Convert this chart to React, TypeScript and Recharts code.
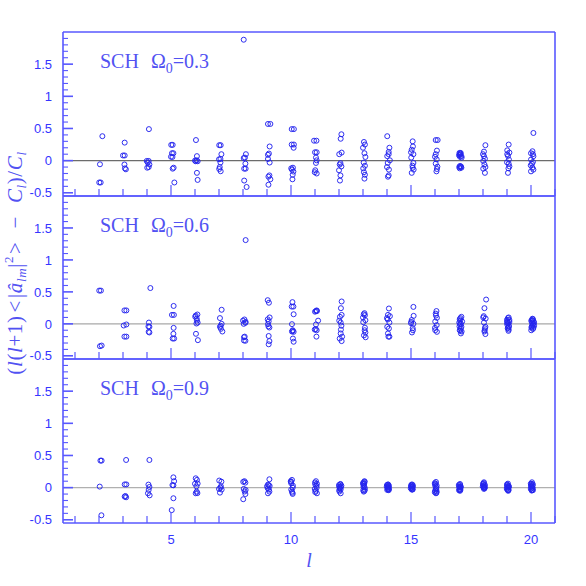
import React from "react";
import { ScatterChart, Scatter, XAxis, YAxis, ReferenceLine } from "recharts";

// multipole index l (x) and the tick layout
const xTicks = [1, 2, 3, 4, 5, 6, 7, 8, 9, 10, 11, 12, 13, 14, 15, 16, 17, 18, 19, 20, 21];
const xLabels = [5, 10, 15, 20];
const yTicks = [
  -0.5, -0.4, -0.3, -0.2, -0.1, 0, 0.1, 0.2, 0.3, 0.4, 0.5, 0.6, 0.7, 0.8, 0.9, 1, 1.1, 1.2, 1.3,
  1.4, 1.5, 1.6, 1.7, 1.8, 1.9,
];
const yLabels = [-0.5, 0, 0.5, 1, 1.5];
const omegas = ["0.3", "0.6", "0.9"];

// [l, (l(l+1)<|a_lm|^2> - C_l)/C_l]
const omega03 = [
  [2.14, 0.38], [2.04, -0.057], [2.01, -0.34], [2.07, -0.34],
  [3.07, 0.28], [3.0, 0.08], [3.07, 0.08], [3.06, -0.06], [3.12, -0.135], [3.08, -0.12],
  [4.08, 0.49], [4.07, -0.005], [3.99, -0.005], [4.03, -0.03], [4.1, -0.06], [4.01, -0.11], [4.07, -0.1],
  [5.07, 0.245], [5.01, 0.245], [5.1, 0.115], [5.04, 0.115], [5.06, 0.057], [5.0, 0.06], [5.11, -0.11], [5.07, -0.125], [5.14, -0.34],
  [6.04, 0.32], [6.08, 0.07], [6.07, 0.005], [6.03, -0.01], [6.11, -0.01], [6.0, 0.0], [6.08, -0.19], [6.11, -0.3],
  [7.07, 0.24], [7.01, 0.24], [7.1, 0.1], [7.06, 0.026], [7.0, 0.02], [7.06, -0.03], [7.03, -0.1], [7.07, -0.165], [7.01, -0.13],
  [8.03, 1.88], [8.12, 0.1], [8.08, 0.047], [8.03, 0.04], [8.1, -0.047], [8.11, -0.125], [8.05, -0.125], [8.05, -0.31], [8.15, -0.41],
  [9.04, 0.57], [9.14, 0.57], [9.11, 0.22], [9.08, 0.11], [9.04, 0.09], [9.04, 0.026], [9.11, -0.03], [9.06, -0.25], [9.14, -0.29], [9.06, -0.375], [9.1, -0.23],
  [10.03, 0.49], [10.12, 0.49], [10.03, 0.25], [10.12, 0.25], [10.11, 0.2], [10.08, -0.11], [10.04, -0.14], [10.1, -0.17], [10.07, -0.22], [10.06, -0.29], [10.01, -0.12],
  [10.96, 0.31], [11.06, 0.31], [11.07, 0.13], [11.0, 0.13], [11.04, 0.047], [11.07, 0.005], [11.04, -0.036], [11.01, -0.15], [11.07, -0.2], [10.99, -0.18],
  [12.1, 0.41], [12.07, 0.34], [12.11, 0.125], [12.01, 0.1], [12.06, -0.04], [12.03, -0.06], [12.1, -0.09], [12.06, -0.23], [12.04, -0.31], [12.0, -0.15],
  [13.04, 0.29], [13.08, 0.25], [13.06, 0.115], [13.1, 0.057], [13.03, -0.03], [13.08, -0.08], [13.04, -0.18], [13.08, -0.22], [13.06, -0.28], [13.0, 0.2], [13.01, -0.12],
  [14.01, 0.38], [14.1, 0.2], [14.07, 0.135], [14.01, 0.07], [14.12, 0.005], [14.03, -0.036], [14.08, -0.14], [14.07, -0.23], [14.04, -0.25], [14.0, -0.1], [14.07, 0.1],
  [15.07, 0.3], [15.08, 0.22], [15.03, 0.17], [15.1, 0.1], [15.01, 0.047], [15.1, -0.036], [15.06, -0.078], [15.11, -0.14], [15.03, -0.19], [15.0, 0.13], [15.07, -0.11],
  [16.03, 0.32], [16.11, 0.32], [16.08, 0.156], [16.03, 0.1], [16.07, 0.02], [16.03, -0.047], [16.1, -0.094], [16.06, -0.167], [16.0, 0.06], [16.08, -0.13],
  [17.07, 0.12], [17.0, 0.083], [17.11, 0.047], [17.03, 0.1], [17.1, 0.07], [17.04, -0.083], [17.1, -0.11], [17.01, -0.1], [17.08, -0.09], [17.06, 0.11], [17.04, 0.06],
  [17.05, 0.09], [17.02, 0.12], [17.07, -0.1], [17.03, -0.12],
  [18.1, 0.24], [18.04, 0.14], [18.0, 0.1], [18.08, 0.03], [18.01, -0.005], [18.06, -0.06], [18.01, -0.125], [18.08, -0.19], [18.04, 0.07], [18.1, -0.1],
  [19.07, 0.25], [19.01, 0.16], [19.1, 0.125], [19.04, 0.073], [19.08, 0.016], [19.0, -0.026], [19.1, -0.09], [19.06, -0.12], [19.04, -0.19], [19.01, 0.1], [19.07, -0.05],
  [20.1, 0.43], [20.06, 0.146], [20.0, 0.115], [20.1, 0.068], [20.0, 0.016], [20.08, -0.02], [19.99, -0.073], [20.06, -0.11], [20.0, -0.167], [20.08, 0.1], [20.04, -0.05], [20.1, -0.14],
];

const omega06 = [
  [2.01, 0.52], [2.08, 0.52], [2.04, -0.35], [2.11, -0.34],
  [3.06, 0.21], [3.14, 0.21], [3.03, -0.026], [3.14, -0.01], [3.06, -0.2], [3.14, -0.2],
  [4.14, 0.56], [4.08, 0.02], [4.1, -0.047], [4.07, -0.125], [4.1, -0.135], [4.06, -0.04],
  [5.11, 0.28], [5.04, 0.14], [5.12, 0.14], [5.11, -0.063], [5.1, -0.156], [5.07, -0.23], [5.13, -0.23],
  [6.1, 0.146], [6.07, 0.083], [6.08, 0.052], [6.11, 0.02], [6.06, 0.005], [6.04, -0.156], [6.12, -0.255], [6.03, 0.13], [6.01, 0.11],
  [7.11, 0.22], [7.04, 0.09], [7.11, 0.0], [7.04, -0.047], [7.08, -0.078], [7.14, -0.12], [7.07, -0.03],
  [8.11, 1.31], [8.06, 0.068], [8.11, 0.03], [8.03, 0.0], [8.1, 0.016], [8.04, -0.21], [8.1, -0.265], [8.04, -0.26], [8.0, 0.05], [8.07, -0.2],
  [9.03, 0.37], [9.08, 0.33], [9.11, 0.1], [9.07, 0.04], [9.04, -0.005], [9.1, -0.057], [9.07, -0.19], [9.1, -0.27], [9.07, -0.32], [9.03, 0.07], [9.06, -0.04],
  [10.06, 0.34], [10.1, 0.27], [10.03, 0.27], [10.11, 0.15], [10.04, -0.005], [10.07, -0.11], [10.11, -0.125], [10.04, -0.12], [10.08, -0.23], [10.11, -0.28], [10.07, -0.1],
  [11.08, 0.2], [11.04, 0.2], [11.0, 0.19], [11.13, 0.05], [11.04, -0.01], [11.03, -0.083], [11.07, -0.1], [11.06, -0.2], [10.99, -0.09], [11.07, 0.21],
  [12.11, 0.35], [12.08, 0.245], [12.11, 0.14], [12.04, 0.11], [12.07, 0.02], [12.1, -0.03], [12.07, -0.15], [12.13, -0.2], [12.03, -0.23], [12.11, -0.27], [12.01, 0.05], [12.08, -0.09],
  [13.06, 0.167], [13.08, 0.135], [13.1, 0.057], [13.01, 0.026], [13.07, -0.1], [13.1, -0.135], [13.11, -0.21], [13.03, 0.15], [13.04, -0.18], [13.0, 0.1], [13.08, -0.06],
  [14.08, 0.24], [14.04, 0.14], [14.12, 0.12], [14.03, 0.068], [14.1, 0.02], [14.01, -0.047], [14.08, -0.073], [14.04, -0.15], [14.1, -0.2], [14.0, 0.09], [14.06, -0.2],
  [15.1, 0.265], [15.11, 0.125], [15.01, 0.03], [15.1, 0.0], [15.07, -0.068], [15.04, -0.135], [15.0, 0.01], [15.08, -0.1], [15.03, 0.06],
  [16.06, 0.2], [16.03, 0.16], [16.08, 0.094], [16.01, 0.036], [16.07, -0.02], [16.0, -0.063], [16.08, -0.125], [16.04, 0.13], [16.01, -0.1],
  [17.1, 0.11], [17.03, 0.073], [17.13, 0.036], [17.04, -0.005], [17.1, -0.047], [17.03, -0.1], [17.08, -0.15], [17.06, 0.09], [17.07, -0.07], [17.01, 0.02], [17.11, -0.12],
  [17.05, 0.05], [17.08, 0.0], [17.02, -0.04], [17.06, -0.11],
  [18.13, 0.38], [18.06, 0.245], [18.03, 0.12], [18.11, 0.083], [18.04, 0.02], [18.1, -0.047], [18.07, -0.1], [18.1, -0.16], [18.01, 0.1], [18.08, -0.07], [18.06, -0.12],
  [19.07, 0.1], [19.0, 0.063], [19.1, 0.03], [19.01, -0.01], [19.08, -0.047], [19.06, -0.11], [19.04, 0.09], [19.03, -0.07], [19.1, 0.06], [19.0, 0.02], [19.07, -0.09],
  [19.05, 0.01], [19.02, 0.04], [19.08, -0.03], [19.04, -0.06],
  [20.08, 0.073], [20.01, 0.047], [20.13, 0.016], [20.06, -0.02], [20.1, -0.063], [20.01, -0.1], [20.04, 0.06], [20.11, 0.04], [20.03, -0.04], [20.08, -0.08], [20.06, 0.08], [20.13, -0.03],
  [20.04, 0.02], [20.09, 0.0], [20.02, -0.06], [20.07, 0.05],
];

const omega09 = [
  [2.06, 0.42], [2.11, 0.42], [2.03, 0.016], [2.1, -0.43],
  [3.13, 0.43], [3.07, 0.05], [3.14, 0.05], [3.1, -0.13], [3.13, -0.15], [3.07, -0.14],
  [4.1, 0.43], [4.06, 0.047], [4.1, 0.01], [4.07, -0.036], [4.04, -0.088], [4.11, -0.12],
  [5.1, 0.16], [5.13, 0.1], [5.1, 0.036], [5.06, 0.04], [5.1, -0.165], [5.03, -0.35],
  [6.03, 0.145], [6.08, 0.12], [6.11, 0.062], [6.06, 0.02], [6.07, -0.062], [6.03, -0.088], [6.1, -0.085], [6.0, 0.06],
  [7.01, 0.11], [7.1, 0.093], [7.06, 0.0], [7.11, -0.03], [7.04, -0.078], [7.0, -0.02], [7.08, 0.02],
  [8.06, 0.1], [8.1, 0.078], [8.01, 0.09], [8.03, -0.02], [8.11, -0.036], [8.1, -0.1], [8.01, -0.18], [8.07, -0.06],
  [9.1, 0.13], [9.04, 0.047], [9.11, 0.026], [9.03, -0.01], [9.1, -0.062], [9.04, -0.088], [9.07, 0.04], [9.0, 0.02], [9.08, -0.03],
  [10.04, 0.12], [10.01, 0.067], [10.07, 0.0], [10.04, -0.062], [10.07, -0.098], [10.0, 0.09], [10.08, 0.03], [10.01, -0.03], [10.06, -0.08], [9.99, 0.1],
  [11.04, 0.1], [11.01, 0.05], [11.07, 0.0], [11.03, -0.05], [11.08, -0.088], [11.0, 0.08], [11.06, 0.03], [11.01, -0.07], [11.08, 0.06], [10.99, -0.02],
  [12.06, 0.057], [12.01, 0.015], [12.07, -0.026], [12.07, -0.088], [12.0, 0.04], [12.04, -0.01], [12.1, 0.03], [12.01, -0.04],
  [12.03, 0.0], [12.05, 0.05], [12.02, -0.06], [12.08, 0.01],
  [13.06, 0.1], [13.01, 0.05], [13.07, 0.0], [13.03, -0.062], [13.0, 0.07], [13.04, 0.03], [13.08, -0.03], [13.01, -0.04], [13.07, 0.09],
  [13.05, 0.06], [13.02, 0.01], [13.06, -0.05], [13.03, 0.08],
  [14.04, 0.05], [14.07, 0.0], [14.01, -0.036], [14.0, 0.04], [14.08, 0.03], [14.03, 0.01], [14.06, -0.03], [13.99, 0.02], [14.08, -0.02],
  [14.02, 0.0], [14.05, 0.045], [14.07, -0.04], [14.03, -0.02], [14.06, 0.02],
  [15.04, 0.05], [15.0, 0.015], [15.07, -0.026], [15.01, 0.04], [15.08, 0.02], [14.99, -0.01], [15.06, -0.03], [15.03, 0.0],
  [15.02, 0.03], [15.05, -0.01], [15.07, 0.04], [15.03, -0.03], [15.06, 0.01],
  [16.04, 0.088], [16.0, 0.046], [16.06, 0.0], [16.01, -0.046], [16.04, -0.088], [15.99, 0.07], [16.07, 0.03], [16.03, -0.02], [15.99, -0.07], [16.07, -0.06],
  [16.02, 0.02], [16.05, -0.03], [16.03, 0.06], [16.06, -0.08],
  [17.04, 0.057], [17.01, 0.015], [17.06, -0.036], [16.99, 0.04], [17.07, 0.02], [17.03, -0.02], [17.0, -0.04], [17.07, 0.0],
  [17.02, 0.0], [17.05, 0.04], [17.03, -0.03], [17.06, 0.01], [17.04, -0.05],
  [18.04, 0.083], [18.01, 0.04], [18.07, -0.005], [17.99, 0.02], [18.08, 0.04], [18.03, 0.0], [18.06, -0.01], [18.0, 0.06],
  [18.02, 0.01], [18.05, 0.03], [18.03, 0.07], [18.07, 0.01], [18.04, -0.02],
  [19.04, 0.062], [19.0, 0.015], [19.07, -0.036], [19.01, 0.04], [19.08, 0.02], [18.99, -0.02], [19.04, -0.04], [19.06, 0.0], [19.0, 0.05],
  [19.02, 0.0], [19.05, 0.03], [19.03, -0.03], [19.07, 0.01], [19.05, -0.05],
  [20.04, 0.083], [20.0, 0.04], [20.07, -0.005], [20.03, -0.046], [19.99, 0.06], [20.08, 0.05], [20.01, 0.01], [20.06, -0.03], [19.99, -0.02], [20.08, -0.04],
  [20.02, 0.02], [20.05, 0.0], [20.03, 0.06], [20.06, 0.03], [20.04, -0.04],
];

const FRAME = "#5858ff";
const TEXT = "#3535ff";
const LABEL = "#5252f2";
const DOT = "#2424ee";
const SIZE = 586;
const LEFT = 63;
const RIGHT = 555;

const panels = [
  { top: 32, bottom: 196, pts: omega03, zero: "#6c6c6c" },
  { top: 196, bottom: 359, pts: omega06, zero: "#a8a8a8" },
  { top: 359, bottom: 523, pts: omega09, zero: "#b0b0b0" },
];

function XTick(props: any) {
  const { x, y, payload, side, labeled } = props;
  const v = payload.value;
  const major = xLabels.includes(v);
  const len = major ? 11 : 7;
  const dir = side === "bottom" ? -1 : 1;
  return (
    <g>
      <line x1={x} x2={x} y1={y} y2={y + dir * len} stroke={FRAME} strokeWidth={1.2} />
      {labeled && major && (
        <text x={x} y={y + 12} dy="0.71em" textAnchor="middle" fontFamily="Liberation Sans" fontSize={13} fill={TEXT}>
          {v}
        </text>
      )}
    </g>
  );
}

function YTick(props: any) {
  const { x, y, payload, side } = props;
  const v = payload.value;
  const major = Math.abs(v * 2 - Math.round(v * 2)) < 1e-9;
  const len = major ? 10 : 5;
  const dir = side === "left" ? 1 : -1;
  return (
    <g>
      <line x1={x} x2={x + dir * len} y1={y} y2={y} stroke={FRAME} strokeWidth={major ? 1.6 : 1.1} />
      {side === "left" && yLabels.includes(v) && (
        <text x={x - 11} y={y} dy="0.36em" textAnchor="end" fontFamily="Liberation Sans" fontSize={13} fill={TEXT}>
          {v}
        </text>
      )}
    </g>
  );
}

function Panel({ top, bottom, pts, zero, labeled }: any) {
  const data = pts.map((p: number[]) => ({ l: p[0], v: p[1] }));
  const axisLine = { stroke: FRAME, strokeWidth: 1.6 };
  return (
    <div style={{ position: "absolute", left: 0, top: 0 }}>
      <ScatterChart
        width={SIZE}
        height={SIZE}
        margin={{ top: top - 10, bottom: SIZE - bottom - 30, left: LEFT - 40, right: SIZE - RIGHT - 10 }}
      >
        <XAxis
          xAxisId="b"
          type="number"
          dataKey="l"
          domain={[0.5, 21]}
          ticks={xTicks}
          interval={0}
          height={30}
          tickSize={0}
          tickMargin={0}
          tickLine={false}
          axisLine={axisLine}
          tick={(p: any) => <XTick {...p} side="bottom" labeled={labeled} />}
        />
        <XAxis
          xAxisId="t"
          orientation="top"
          type="number"
          dataKey="l"
          domain={[0.5, 21]}
          ticks={xTicks}
          interval={0}
          height={10}
          tickSize={0}
          tickMargin={0}
          tickLine={false}
          axisLine={axisLine}
          tick={(p: any) => <XTick {...p} side="top" />}
        />
        <YAxis
          yAxisId="l"
          type="number"
          dataKey="v"
          domain={[-0.55, 2]}
          ticks={yTicks}
          interval={0}
          width={40}
          tickSize={0}
          tickMargin={0}
          tickLine={false}
          axisLine={axisLine}
          tick={(p: any) => <YTick {...p} side="left" />}
        />
        <YAxis
          yAxisId="r"
          orientation="right"
          type="number"
          dataKey="v"
          domain={[-0.55, 2]}
          ticks={yTicks}
          interval={0}
          width={10}
          tickSize={0}
          tickMargin={0}
          tickLine={false}
          axisLine={axisLine}
          tick={(p: any) => <YTick {...p} side="right" />}
        />
        <ReferenceLine xAxisId="b" yAxisId="l" y={0} stroke={zero} strokeWidth={1.4} />
        <Scatter
          xAxisId="b"
          yAxisId="l"
          data={data}
          isAnimationActive={false}
          shape={(p: any) => <circle cx={p.cx} cy={p.cy} r={2.5} fill="none" stroke={DOT} strokeWidth={0.95} />}
        />
      </ScatterChart>
    </div>
  );
}

export default function App() {
  return (
    <div style={{ position: "absolute", left: 0, top: 0, width: SIZE, height: SIZE, background: "#fff" }}>
      {panels.map((p, i) => (
        <Panel key={i} {...p} labeled={i === panels.length - 1} />
      ))}
      <svg width={SIZE} height={SIZE} style={{ position: "absolute", left: 0, top: 0, pointerEvents: "none" }}>
        {panels.map((p, i) => (
          <text key={i} x={100} y={p.top + 36} fontFamily="Liberation Serif" fontSize={20} fill={LABEL}>
            SCH
            <tspan dx={12}>Ω</tspan>
            <tspan dy={5} fontSize={14}>0</tspan>
            <tspan dy={-5}>={omegas[i]}</tspan>
          </text>
        ))}
        <text x={309} y={567} textAnchor="middle" fontFamily="Liberation Serif" fontStyle="italic" fontSize={20} fill={LABEL}>
          l
        </text>
        <text
          transform="translate(22,263) rotate(-90)"
          textAnchor="middle"
          fontFamily="Liberation Serif"
          fontSize={21}
          letterSpacing={0.6}
          fill={LABEL}
        >
          (<tspan fontStyle="italic">l</tspan>(<tspan fontStyle="italic">l</tspan>+1)
          <tspan dx={3}>&lt;</tspan>
          <tspan dx={2}>|</tspan>
          <tspan fontStyle="italic">â</tspan>
          <tspan dy={4} fontSize={13} fontStyle="italic">lm</tspan>
          <tspan dy={-4}>|</tspan>
          <tspan dy={-9} fontSize={13}>2</tspan>
          <tspan dy={9} dx={2}>&gt;</tspan>
          <tspan dx={13}>−</tspan>
          <tspan dx={13} fontStyle="italic">C</tspan>
          <tspan dy={4} fontSize={13} fontStyle="italic">l</tspan>
          <tspan dy={-4}>)/</tspan>
          <tspan fontStyle="italic">C</tspan>
          <tspan dy={4} fontSize={13} fontStyle="italic">l</tspan>
        </text>
      </svg>
    </div>
  );
}
